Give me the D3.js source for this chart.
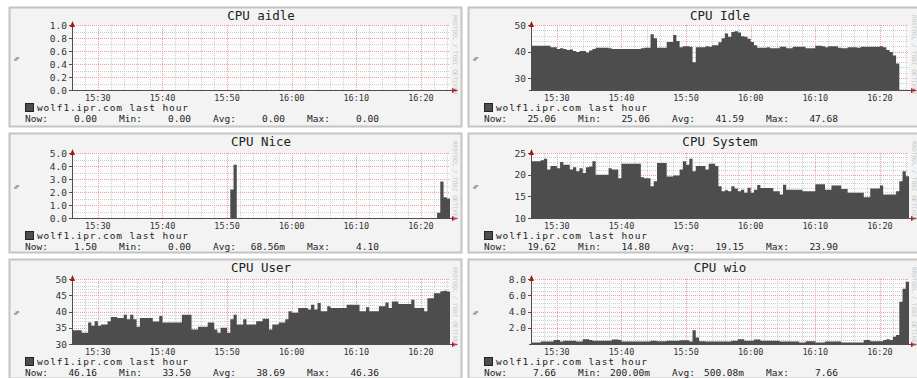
<!DOCTYPE html>
<html><head><meta charset="utf-8">
<script src="https://cdn.jsdelivr.net/npm/d3@7"></script>
<style>
body{margin:0;background:#fff}
svg{display:block}
text{font-family:"DejaVu Sans Mono",monospace}
</style>
</head><body>
<svg id="c" width="917" height="378"></svg>
<script>
// ---------------- data ----------------
const titles = ["CPU aidle","CPU Idle","CPU Nice","CPU System","CPU User","CPU wio"];
const legendLabel = "wolf1.ipr.com last hour";
const timeLabels = ["15:30","15:40","15:50","16:00","16:10","16:20"];
const startTime = "15:26:00";   // first sample
const stepSeconds = 30;          // sample spacing

const aidle = [
0,0,0,0,0,0,0,0,0,0,0,0,0,0,0,0,0,0,0,0,
0,0,0,0,0,0,0,0,0,0,0,0,0,0,0,0,0,0,0,0,
0,0,0,0,0,0,0,0,0,0,0,0,0,0,0,0,0,0,0,0,
0,0,0,0,0,0,0,0,0,0,0,0,0,0,0,0,0,0,0,0,
0,0,0,0,0,0,0,0,0,0,0,0,0,0,0,0,0,0,0,0,
0,0,0,0,0,0,0,0,0,0,0,0,0,0,0,0,0];
const idle = [
42.2,42.2,42.2,42.2,42.2, 42.2,41.6,41.6,41,41.2, 41,40.6,40.8,40.2,39.8, 40.2,40.2,39.6,40.4,41,
41.4,41.4,41.4,41.4,41.2, 41,41,41,41,41, 41,41,41,41,41.2, 41.4,41.4,46.5,45,41.4,
41.4,41.4,43.6,43.6,46.2, 44,41.6,42,42,41.8, 36,41.6,41.6,41.6,42, 41.8,42.4,42.4,43.5,45,
46.8,45.6,47.4,47.68,47.2, 45.8,45.6,44.8,43.6,42.4, 41.4,41.4,41.4,41.6,41.2, 41.2,41.2,41.8,41.8,41.2,
41.2,41.8,41.8,41.8,41.8, 41.2,41.2,41.2,42.2,42.2, 42,41.6,42,42,42, 41.4,41.2,41.2,41.6,41.6,
41.6,41.4,41.8,41.8,41.8, 41.8,41.8,41.8,42,41.6, 40.6,39.8,38.5,35.5,25.06, 25.06,25.06];
const nice = [
0,0,0,0,0,0,0,0,0,0,0,0,0,0,0,0,0,0,0,0,
0,0,0,0,0,0,0,0,0,0,0,0,0,0,0,0,0,0,0,0,
0,0,0,0,0,0,0,0,0,2.2,4.1,0,0,0,0,0,0,0,0,0,
0,0,0,0,0,0,0,0,0,0,0,0,0,0,0,0,0,0,0,0,
0,0,0,0,0,0,0,0,0,0,0,0,0,0,0,0,0,0,0,0,
0,0,0,0,0,0,0,0,0,0,0,0,0,0.4,2.8,1.6,1.5];
const system = [
23.1,23.1,23.1,23.3,23.7, 21.2,22,22,21.5,22.9, 22.3,22.3,21.2,21.7,20.8, 21.5,20.4,21.7,21.9,23.1,
20,20,20,20,21.5, 21.2,21.2,19.2,22.5,22.5, 22.5,22.5,22.5,22.5,19.4, 19.2,19.2,17.3,18.5,22.7,
22.7,22.7,19.6,19.6,19.8, 19.8,21.2,23.1,22.3,23.7, 20.8,22,22,22,21.2, 22.5,22.5,22,17.3,16.2,
16.4,16.2,17.3,16.8,16.2, 16.5,15.8,17,15.8,16.5, 17.6,16.9,16.9,16.9,16.9, 16.2,16.2,15.4,17.7,16.5,
16.5,16.5,16.5,16.5,16.2, 16.2,16.2,16.2,17.8,17.8, 17.8,16.5,16.5,17.5,17.5, 17.5,16.7,16.7,15.8,15.8,
15.8,15.8,15.8,14.8,14.8, 16.8,16.8,16.8,17.5,15.4, 15.4,15.4,15.4,16.2,18.5, 20.8,19.62];
const user = [
34.2,34.2,34.2,33.5,33.5, 36.6,35.6,37,35.6,36, 36,37,38.3,38.3,38, 38,39,37.6,39,37.6,
35.3,38,38,38,38, 36.9,36.9,38.6,36.6,36.6, 36.6,36.6,36.6,36.6,39, 39,39,34.5,34.5,35.3,
35.3,35.3,36.6,36.6,34.5, 33.5,35,35,33.5,37.6, 39,36,36,37.6,36, 36,36,37,37,37.8,
37.8,34.5,36,36,36.6, 36.6,37.6,40.1,39.6,39.6, 41.1,41.1,41.1,40.6,42.1, 40.6,42.6,40.1,40.1,41.6,
41.1,41.1,41.1,41.1,41.1, 42.1,42.1,42.1,42.1,40.1, 40.1,41.3,40.1,40.1,40.1, 41.6,41.6,42.8,41.1,43.1,
43.1,42.3,42.3,42.3,42.3, 43.6,41.1,41.1,41.1,40.1, 44.1,44.1,45.6,45.6,46.2, 46.36,46.16];
const wio = [
0.2,0.2,0.2,0.3,0.3, 0.3,0.3,0.5,0.5,0.3, 0.4,0.4,0.4,0.4,0.3, 0.3,0.6,0.6,0.5,0.4,
0.4,0.4,0.4,0.4,0.4, 0.55,0.55,0.5,0.3,0.3, 0.3,0.3,0.3,0.3,0.3, 0.3,0.3,0.4,0.4,0.35,
0.35,0.35,0.4,0.4,0.4, 0.4,0.45,0.45,0.45,0.3, 1.7,0.8,0.35,0.35,0.3, 0.3,0.3,0.3,0.3,0.3,
0.3,0.3,0.4,0.4,0.6, 0.6,0.4,0.4,0.4,0.55, 0.55,0.4,0.4,0.4,0.4, 0.4,0.4,0.3,0.3,0.3,
0.3,0.3,0.3,0.2,0.2, 0.35,0.35,0.35,0.2,0.2, 0.2,0.3,0.3,0.3,0.3, 0.3,0.2,0.2,0.2,0.2,
0.2,0.2,0.2,0.5,0.5, 0.35,0.35,0.35,0.35,0.5, 0.6,0.5,0.9,1.1,5.2, 6.8,7.66];

const yDomains = [[0,1],[25.5,50],[0,5],[10,25],[30,50],[0,8]];
const yLabelTicks = [[0,0.2,0.4,0.6,0.8,1.0],[30,40,50],[0,1,2,3,4,5],[10,15,20,25],[30,35,40,45,50],[2,4,6,8]];
const yMinorSteps = [0.1,2,0.5,1,1,0.5];
const yFormats = [".1f","d",".1f","d","d",".1f"];
const statsNow = ["0.00","25.06","1.50","19.62","46.16","7.66"];
const statsMin = ["0.00","25.06","0.00","14.80","33.50","200.00m"];
const statsAvg = ["0.00","41.59","68.56m","19.15","38.69","500.08m"];
const statsMax = ["0.00","47.68","4.10","23.90","46.36","7.66"];
const seriesList = [aidle, idle, nice, system, user, wio];

// ---------------- layout ----------------
const colOffsets = [0, 459];
const boxTops = [7, 133, 259];
const plotTops = [25, 153, 279];
const plotH = 65, plotW = 378, plotLeft0 = 72;

const svg = d3.select("#c");
const parseHMS = d3.timeParse("%H:%M:%S");
const parseHM = d3.timeParse("%H:%M");
const t0 = parseHMS(startTime);
const nSamples = aidle.length;
const t1 = new Date(+t0 + nSamples * stepSeconds * 1000);

seriesList.forEach((data, k) => {
  const col = k % 2, row = Math.floor(k / 2);
  const off = colOffsets[col];
  const PL = plotLeft0 + off, PR = PL + plotW;
  const PT = plotTops[row], PB = PT + plotH;
  const g = svg.append("g");

  // panel box
  g.append("rect").attr("x", 9.5 + off).attr("y", boxTops[row] + 0.5)
    .attr("width", 452).attr("height", 119)
    .attr("fill", "#f3f3f3").attr("stroke", "#c4c4c4").attr("stroke-width", 2);
  // plot background
  g.append("rect").attr("x", PL).attr("y", PT).attr("width", plotW).attr("height", plotH)
    .attr("fill", "#fcfcfc");

  const x = d3.scaleTime().domain([t0, t1]).range([PL, PR]);
  const y = d3.scaleLinear().domain(yDomains[k]).range([PB, PT]);

  // minor horizontal grid
  const [ymin, ymax] = yDomains[k];
  const mstep = yMinorSteps[k];
  const minorY = d3.range(Math.ceil(ymin / mstep) * mstep, ymax + mstep / 2, mstep)
    .filter(v => v > ymin + 1e-9);
  g.selectAll(null).data(minorY).join("line")
    .attr("x1", PL).attr("x2", PR)
    .attr("y1", d => Math.round(y(d)) + 0.5).attr("y2", d => Math.round(y(d)) + 0.5)
    .attr("stroke", "#cfcfcf").attr("stroke-dasharray", "1,1");
  // minor vertical grid (every 2 minutes)
  const minorX = d3.timeMinute.every(2).range(t0, t1).filter(d => +d > +t0);
  g.selectAll(null).data(minorX).join("line")
    .attr("y1", PT).attr("y2", PB)
    .attr("x1", d => Math.round(x(d)) + 0.5).attr("x2", d => Math.round(x(d)) + 0.5)
    .attr("stroke", "#cfcfcf").attr("stroke-dasharray", "1,1");
  // major grid
  const majX = timeLabels.map(s => parseHM(s));
  g.selectAll(null).data(majX).join("line")
    .attr("y1", PT).attr("y2", PB)
    .attr("x1", d => Math.round(x(d)) + 0.5).attr("x2", d => Math.round(x(d)) + 0.5)
    .attr("stroke", "#f0a0a0").attr("stroke-dasharray", "1,1");
  g.selectAll(null).data(yLabelTicks[k].filter(v => v > ymin)).join("line")
    .attr("x1", PL).attr("x2", PR)
    .attr("y1", d => Math.round(y(d)) + 0.5).attr("y2", d => Math.round(y(d)) + 0.5)
    .attr("stroke", "#f0a0a0").attr("stroke-dasharray", "1,1");

  // data area
  const clipId = "clip" + k;
  g.append("clipPath").attr("id", clipId).append("rect")
    .attr("x", PL).attr("y", PT - 1).attr("width", plotW).attr("height", plotH + 1);
  const pts = data.map((v, i) => [new Date(+t0 + i * stepSeconds * 1000), v]);
  pts.push([t1, data[data.length - 1]]);
  const area = d3.area().curve(d3.curveStepAfter)
    .x(d => x(d[0])).y0(PB).y1(d => y(Math.max(d[1], ymin)));
  g.append("path").attr("d", area(pts)).attr("fill", "#4d4d4d")
    .attr("clip-path", `url(#${clipId})`);

  // axes
  g.append("line").attr("x1", PL + 0.5).attr("x2", PL + 0.5).attr("y1", PT - 2).attr("y2", PB + 1)
    .attr("stroke", "#5a4a4a");
  g.append("line").attr("x1", PL - 2).attr("x2", PR + 3).attr("y1", PB + 0.5).attr("y2", PB + 0.5)
    .attr("stroke", "#5a4a4a");
  g.append("path").attr("d", `M${PL - 2},${PT + 2} L${PL + 0.5},${PT - 4} L${PL + 3},${PT + 2} Z`)
    .attr("fill", "#b01010");
  g.append("path").attr("d", `M${PR + 2},${PB - 2} L${PR + 8},${PB + 0.5} L${PR + 2},${PB + 3} Z`)
    .attr("fill", "#b01010");

  // y tick marks and labels
  const yLab = g.selectAll(null).data(yLabelTicks[k]).join("g");
  yLab.append("line").attr("x1", PL - 3).attr("x2", PL)
    .attr("y1", d => Math.round(y(d)) + 0.5).attr("y2", d => Math.round(y(d)) + 0.5)
    .attr("stroke", "#5a4a4a");
  yLab.append("text").attr("x", PL - 5).attr("y", d => y(d) + 3.5)
    .attr("text-anchor", "end").attr("font-size", 9.5).attr("fill", "#333")
    .text(d => d3.format(yFormats[k])(d));

  // x tick labels
  g.selectAll(null).data(timeLabels).join("text")
    .attr("x", d => x(parseHM(d))).attr("y", PB + 10.5)
    .attr("text-anchor", "middle").attr("font-size", 8.5).attr("fill", "#333")
    .text(d => d);

  // title
  g.append("text").attr("x", PL + plotW / 2).attr("y", boxTops[row] + 13)
    .attr("text-anchor", "middle").attr("font-size", 12.5).attr("fill", "#222")
    .text(titles[k]);

  // y unit label
  g.append("text").attr("transform", `translate(${19 + off},${PT + 34}) rotate(-90)`)
    .attr("text-anchor", "middle").attr("font-size", 7).attr("fill", "#444").text("%");

  // watermark
  g.append("text").attr("transform", `translate(${453 + off},${boxTops[row] + 8}) rotate(90)`)
    .attr("font-size", 6).attr("fill", "#c8c8c8").text("RRDTOOL / TOBI OETIKER");

  // legend
  g.append("rect").attr("x", 25.5 + off).attr("y", PB + 13.5).attr("width", 8).attr("height", 8)
    .attr("fill", "#4d4d4d").attr("stroke", "#222");
  g.append("text").attr("x", 37 + off).attr("y", PB + 21).attr("font-size", 9.5).attr("fill", "#222")
    .attr("textLength", 151).attr("lengthAdjust", "spacing")
    .text(legendLabel);
  const statY = PB + 31.5;
  const labels = ["Now:","Min:","Avg:","Max:"];
  const vals = [statsNow[k], statsMin[k], statsAvg[k], statsMax[k]];
  labels.forEach((lab, j) => {
    g.append("text").attr("x", 25 + off + j * 94).attr("y", statY).attr("font-size", 9.5)
      .attr("fill", "#222").text(lab);
    g.append("text").attr("x", 97 + off + j * 94).attr("y", statY).attr("font-size", 9.5)
      .attr("text-anchor", "end").attr("fill", "#222").text(vals[j]);
  });
});
</script>
</body></html>
